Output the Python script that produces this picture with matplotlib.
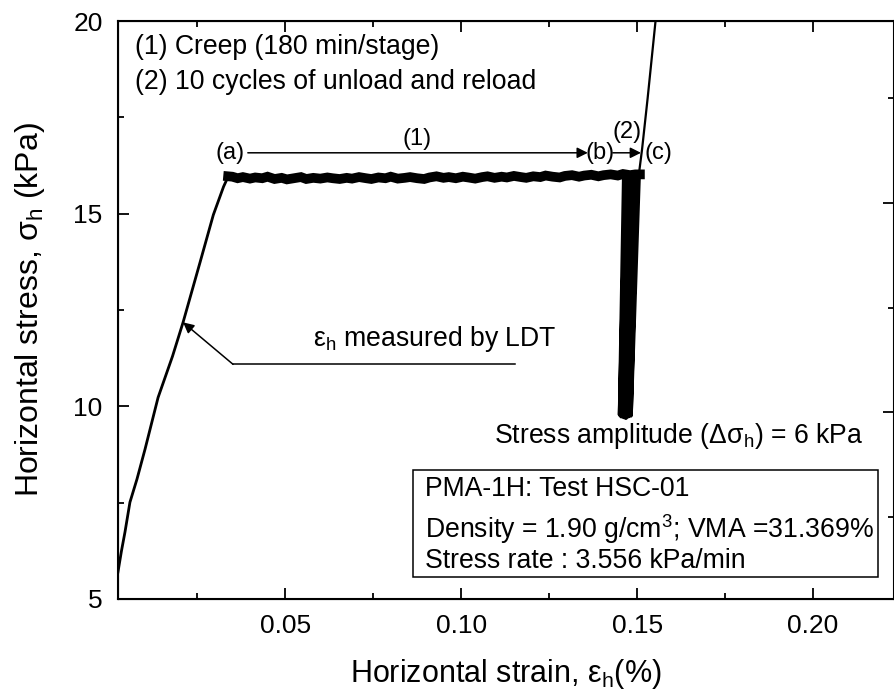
import matplotlib
matplotlib.use("Agg")
import matplotlib.pyplot as plt
from matplotlib.ticker import MultipleLocator

plt.rcParams["font.family"] = ["Liberation Sans", "DejaVu Sans"]
plt.rcParams["mathtext.fontset"] = "custom"
plt.rcParams["mathtext.rm"] = "Liberation Sans"
plt.rcParams["mathtext.it"] = "Liberation Sans:italic"
plt.rcParams["mathtext.default"] = "regular"

# ---- data: strain in %, stress in kPa -------------------------------------
# loading ramp up to the creep stage (a)
load_strain = [0.0025, 0.0035, 0.0045, 0.0059, 0.0079, 0.0102, 0.0139, 0.0180,
               0.0210, 0.0258, 0.0296, 0.0325, 0.0338]
load_stress = [5.70, 6.25, 6.74, 7.51, 8.11, 8.89, 10.23, 11.30,
               12.18, 13.73, 14.97, 15.70, 15.96]

# creep stage (a) -> (b), noisy band at ~16 kPa
creep_strain = [0.0338, 0.0350, 0.0365, 0.0380, 0.0400, 0.0415, 0.0435, 0.0450,
                0.0470, 0.0490, 0.0505, 0.0525, 0.0545, 0.0560, 0.0580, 0.0600,
                0.0620, 0.0635, 0.0655, 0.0675, 0.0690, 0.0710, 0.0730, 0.0745,
                0.0765, 0.0785, 0.0800, 0.0820, 0.0840, 0.0855, 0.0875, 0.0895,
                0.0910, 0.0930, 0.0950, 0.0965, 0.0985, 0.1005, 0.1020, 0.1040,
                0.1060, 0.1075, 0.1095, 0.1115, 0.1130, 0.1150, 0.1170, 0.1185,
                0.1205, 0.1225, 0.1240, 0.1260, 0.1280, 0.1295, 0.1315, 0.1335,
                0.1350, 0.1370, 0.1390, 0.1405, 0.1425, 0.1445, 0.1460, 0.1480,
                0.1495, 0.1508]
creep_stress = [15.97, 15.96, 15.92, 15.95, 15.91, 15.94, 15.92, 15.96,
                15.90, 15.93, 15.89, 15.92, 15.95, 15.90, 15.93, 15.91,
                15.94, 15.92, 15.90, 15.93, 15.91, 15.95, 15.92, 15.90,
                15.94, 15.92, 15.96, 15.91, 15.93, 15.95, 15.92, 15.90,
                15.94, 15.97, 15.93, 15.95, 15.92, 15.96, 15.94, 15.91,
                15.95, 15.97, 15.93, 15.96, 15.94, 15.98, 15.95, 15.93,
                15.97, 15.95, 15.99, 15.96, 15.94, 15.98, 16.00, 15.96,
                15.99, 16.01, 15.97, 16.00, 16.02, 15.99, 16.03, 16.00,
                16.02, 16.02]

# 10 unload / reload cycles (b) -> (c)
cyc_top_strain = [0.1463, 0.1467, 0.1471, 0.1475, 0.1479, 0.1483,
                  0.1487, 0.1491, 0.1495, 0.1500, 0.1505]
cyc_top_stress = 16.02
cyc_bot_strain = [0.1451, 0.1455, 0.1458, 0.1462, 0.1465,
                  0.1468, 0.1472, 0.1475, 0.1478, 0.1482]
cyc_bot_stress = [9.78, 9.74, 9.80, 9.72, 9.76, 9.70, 9.78, 9.74, 9.80, 9.76]

# reloading after the cycles
reload_strain = [0.1505, 0.1514, 0.1530, 0.1558]
reload_stress = [16.02, 16.66, 18.00, 20.50]

# ---- figure ---------------------------------------------------------------
fig = plt.figure(figsize=(8.95, 6.94), dpi=100)
ax = fig.add_axes([0.1318, 0.1369, 0.8671, 0.8328])

ax.plot(load_strain, load_stress, color="k", lw=2.0)
ax.plot(creep_strain, creep_stress, color="k", lw=7.0, solid_joinstyle="miter")

cyc_x, cyc_y = [], []
for i in range(len(cyc_bot_strain)):
    cyc_x += [cyc_top_strain[i], cyc_bot_strain[i]]
    cyc_y += [cyc_top_stress, cyc_bot_stress[i]]
cyc_x.append(cyc_top_strain[-1])
cyc_y.append(cyc_top_stress)
ax.plot(cyc_x, cyc_y, color="k", lw=3.0)

ax.plot(reload_strain, reload_stress, color="k", lw=1.6)

ax.set_xlim(0.0025, 0.223)
ax.set_ylim(5, 20)
ax.xaxis.set_major_locator(MultipleLocator(0.05))
ax.xaxis.set_minor_locator(MultipleLocator(0.025))
ax.yaxis.set_major_locator(MultipleLocator(5))
ax.yaxis.set_minor_locator(MultipleLocator(2.5))
ax.set_xticks([0.05, 0.10, 0.15, 0.20])
ax.set_xticklabels(["0.05", "0.10", "0.15", "0.20"])
ax.tick_params(which="both", direction="in", top=True, right=False,
               labelsize=19, width=1.3)
ax.tick_params(which="major", length=8, pad=11)
ax.tick_params(which="minor", length=4.5)
for s in ax.spines.values():
    s.set_linewidth(1.5)

# right-hand axis of the original (labels fall outside the crop)
ax2 = ax.twinx()
ax2.set_ylim(0.11, 2.867)
ax2.yaxis.set_major_locator(MultipleLocator(1))
ax2.yaxis.set_minor_locator(MultipleLocator(0.5))
ax2.tick_params(which="both", direction="in", labelright=False, width=1.3)
ax2.tick_params(which="major", length=8)
ax2.tick_params(which="minor", length=4.5)

ax.set_xlabel("Horizontal strain, ε$_h$(%)", fontsize=22)
ax.set_ylabel("Horizontal stress, σ$_h$ (kPa)", fontsize=23)
ax.xaxis.set_label_coords(0.50, -0.100)
ax.yaxis.set_label_coords(-0.092, 0.5)

# ---- annotations ----------------------------------------------------------
arrow = dict(arrowstyle="-|>", color="k", lw=1.1, mutation_scale=16,
             shrinkA=0, shrinkB=0)
ax.text(0.022, 0.955, "(1) Creep (180 min/stage)", transform=ax.transAxes,
        fontsize=19.2, va="center")
ax.text(0.022, 0.895, "(2) 10 cycles of unload and reload", transform=ax.transAxes,
        fontsize=19.2, va="center")

ax.annotate("", xy=(0.136, 16.58), xytext=(0.0394, 16.58), arrowprops=arrow)
ax.annotate("", xy=(0.1511, 16.58), xytext=(0.1431, 16.58), arrowprops=arrow)
ax.text(0.0343, 16.58, "(a)", fontsize=17, ha="center", va="center")
ax.text(0.0874, 16.95, "(1)", fontsize=17, ha="center", va="center")
ax.text(0.1394, 16.58, "(b)", fontsize=17, ha="center", va="center")
ax.text(0.1471, 17.12, "(2)", fontsize=17, ha="center", va="center")
ax.text(0.1562, 16.58, "(c)", fontsize=17, ha="center", va="center")

ax.annotate("", xy=(0.0210, 12.18), xytext=(0.0352, 11.09), arrowprops=arrow)
ax.plot([0.0352, 0.1153], [11.09, 11.09], color="k", lw=1.1)
ax.text(0.0579, 11.74, "ε$_h$ measured by LDT", fontsize=19.2, va="center")

ax.text(0.4845, 0.282, "Stress amplitude (Δσ$_h$) = 6 kPa", transform=ax.transAxes,
        fontsize=19.2, va="center")

box = plt.Rectangle((0.380, 0.038), 0.599, 0.185, transform=ax.transAxes,
                    fill=False, lw=1.1, color="k")
ax.add_patch(box)
ax.text(0.3956, 0.190, "PMA-1H: Test HSC-01", transform=ax.transAxes,
        fontsize=19.2, va="center")
ax.text(0.3956, 0.121, "Density = 1.90 g/cm$^3$; VMA =31.369%", transform=ax.transAxes,
        fontsize=19.2, va="center")
ax.text(0.3956, 0.0656, "Stress rate : 3.556 kPa/min", transform=ax.transAxes,
        fontsize=19.2, va="center")

fig.savefig("out.png", dpi=100)
